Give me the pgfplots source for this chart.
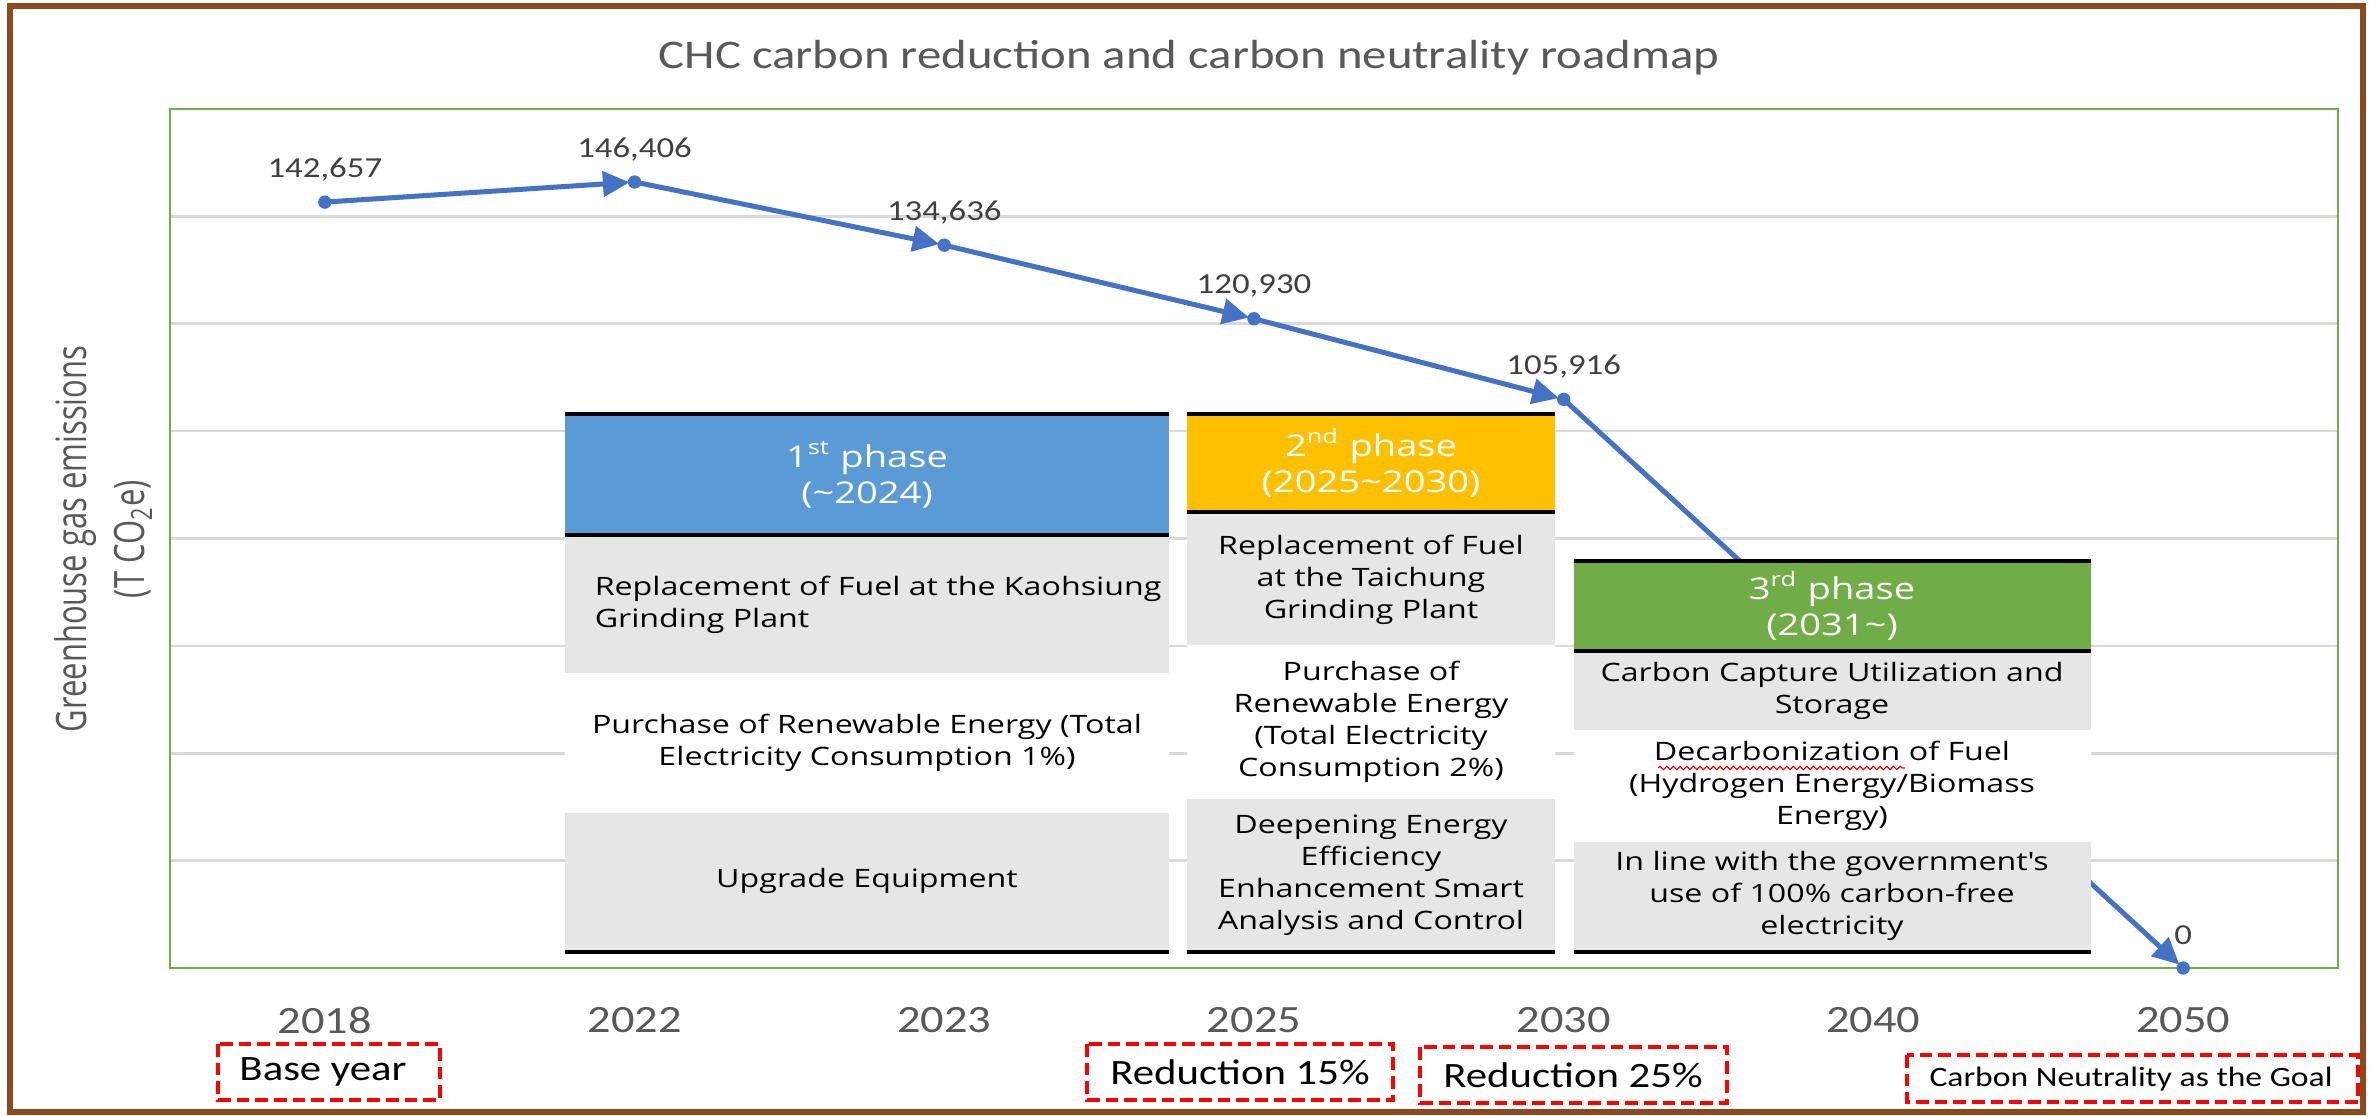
\documentclass[border=0pt]{standalone}
\usepackage{pgfplots}
\pgfplotsset{compat=1.18}
\usepackage{graphicx}
\usepackage{fontspec}
\usetikzlibrary{arrows.meta,decorations.pathmorphing}
\setmainfont{Carlito}
\newfontfamily\calib[FakeStretch=1.2]{Carlito}
\newfontfamily\osans[FakeStretch=1.27]{Open Sans}
\newfontfamily\ylab{Open Sans}
\definecolor{lineblue}{HTML}{4472C4}
\definecolor{txtgray}{HTML}{595959}
\definecolor{lblgray}{HTML}{404040}
\definecolor{gridgray}{HTML}{D9D9D9}
\definecolor{axgreen}{HTML}{70AD47}
\definecolor{hblue}{HTML}{5B9BD5}
\definecolor{hyellow}{HTML}{FFC000}
\definecolor{hgreen}{HTML}{70AD47}
\definecolor{cellgray}{HTML}{E7E6E6}
\definecolor{framebrown}{HTML}{8B4A1E}
\begin{document}
\begin{tikzpicture}
\useasboundingbox (0,0) rectangle (713.1pt,334.8pt);
\fill[white] (0,0) rectangle (713.1pt,334.8pt);
\begin{axis}[
  at={(51pt,44.4pt)}, anchor=south west,
  width=650.4pt, height=257.7pt, scale only axis,
  xmin=-0.5, xmax=6.5, ymin=0, ymax=160000,
  xtick={0,1,2,3,4,5,6},
  xticklabels={2018,2022,2023,2025,2030,2040,2050},
  ytick={20000,40000,60000,80000,100000,120000,140000},
  yticklabels={}, scaled y ticks=false,
  major tick length=0pt,
  ymajorgrids,
  grid style={draw=gridgray, line width=0.8pt},
  axis line style={draw=axgreen, line width=0.7pt},
  xticklabel style={font=\calib\fontsize{11.6}{14}\selectfont, text=txtgray, anchor=center, yshift=-15.6pt},
  clip=false,
  seg/.style={lineblue, line width=1.5pt, -{Triangle[length=8pt,width=7.5pt]}, shorten >=1.5pt},
]
\addplot[seg] coordinates {(0,142657) (1,146406)};
\addplot[seg] coordinates {(1,146406) (2,134636)};
\addplot[seg] coordinates {(2,134636) (3,120930)};
\addplot[seg] coordinates {(3,120930) (4,105916)};
\addplot[seg] coordinates {(4,105916) (6,0)};
\addplot[only marks, mark=*, mark size=1.8pt, color=lineblue,
  point meta=explicit symbolic, nodes near coords,
  nodes near coords style={font=\calib\fontsize{8.7}{10}\selectfont, text=lblgray, anchor=center, yshift=9.8pt}]
  coordinates {(0,142657) [142,657] (1,146406) [146,406] (2,134636) [134,636]
               (3,120930) [120,930] (4,105916) [105,916] (6,0) [0]};
\end{axis}
\begin{scope}[x=0.3pt, y=-0.3pt, yshift=334.8pt]
% outer frame
\draw[framebrown, line width=1.8pt] (10,6) rectangle (2363,1112);
% title
\node[text=txtgray, font=\calib\fontsize{12.2}{14}\selectfont] at (1189,58) {CHC carbon reduction and carbon neutrality roadmap};
% y label
\node[rotate=90, text=txtgray] at (104,539) {\scalebox{1}[1.35]{\ylab\fontsize{9.3}{13}\selectfont\begin{tabular}{@{}c@{}}Greenhouse gas emissions\\(T CO\textsubscript{2}e)\end{tabular}}};
% phase 1
\fill[hblue] (565,414) rectangle (1169,535);
\fill[cellgray] (565,535) rectangle (1169,673);
\fill[white] (565,673) rectangle (1169,813);
\fill[cellgray] (565,813) rectangle (1169,951);
\draw[black, line width=1.4pt] (565,414) -- (1169,414) (565,535) -- (1169,535) (565,952) -- (1169,952);
% phase 2
\fill[hyellow] (1187,414) rectangle (1555,512);
\fill[cellgray] (1187,512) rectangle (1555,645);
\fill[white] (1187,645) rectangle (1555,799);
\fill[cellgray] (1187,799) rectangle (1555,951);
\draw[black, line width=1.4pt] (1187,414) -- (1555,414) (1187,512) -- (1555,512) (1187,952) -- (1555,952);
% phase 3
\fill[hgreen] (1574,561) rectangle (2091,651);
\fill[cellgray] (1574,651) rectangle (2091,730);
\fill[white] (1574,730) rectangle (2091,842);
\fill[cellgray] (1574,842) rectangle (2091,951);
\draw[black, line width=1.4pt] (1574,561) -- (2091,561) (1574,651) -- (2091,651) (1574,952) -- (2091,952);
% header texts
\begin{scope}[every node/.style={text=white, align=center, font=\osans\fontsize{9}{10.8}\selectfont}]
\node at (867,475) {1\textsuperscript{st} phase\\(\textasciitilde 2024)};
\node at (1371,463) {2\textsuperscript{nd} phase\\(2025\textasciitilde 2030)};
\node at (1832,606) {3\textsuperscript{rd} phase\\(2031\textasciitilde)};
\end{scope}
% body texts
\begin{scope}[every node/.style={text=black, align=center, font=\osans\fontsize{7.6}{9.6}\selectfont}]
\node[anchor=west, align=left] at (583,605) {Replacement of Fuel at the Kaohsiung\\Grinding Plant};
\node at (867,743) {Purchase of Renewable Energy (Total\\Electricity Consumption 1\%)};
\node at (867,881) {Upgrade Equipment};
\node at (1371,580) {Replacement of Fuel\\at the Taichung\\Grinding Plant};
\node at (1371,722) {Purchase of\\Renewable Energy\\(Total Electricity\\Consumption 2\%)};
\node at (1371,875) {Deepening Energy\\Efficiency\\Enhancement Smart\\Analysis and Control};
\node at (1832,691) {Carbon Capture Utilization and\\Storage};
\node at (1832,786) {Decarbonization of Fuel\\(Hydrogen Energy/Biomass\\Energy)};
\node at (1832,896) {In line with the government\textquotesingle s\\use of 100\% carbon-free\\electricity};
\end{scope}
\draw[red, line width=0.35pt, decorate, decoration={snake, amplitude=0.5pt, segment length=2pt}] (1658,768) -- (1905,768);
% red dashed boxes
\begin{scope}[red, line width=1.2pt, dash pattern=on 3.8pt off 1.8pt]
\draw (218,1044) rectangle (440,1100);
\draw (1087,1044) rectangle (1393,1100);
\draw (1420,1047) rectangle (1727,1103);
\draw (1907,1055) rectangle (2358,1102);
\end{scope}
\begin{scope}[every node/.style={text=black, font=\calib\fontsize{10.7}{12}\selectfont}]
\node at (323,1072) {Base year};
\node at (1240,1072) {Reduction 15\%};
\node at (1573,1075) {Reduction 25\%};
\node[font=\calib\fontsize{8.4}{10}\selectfont] at (2131,1079) {Carbon Neutrality as the Goal};
\end{scope}
\end{scope}
\end{tikzpicture}
\end{document}
